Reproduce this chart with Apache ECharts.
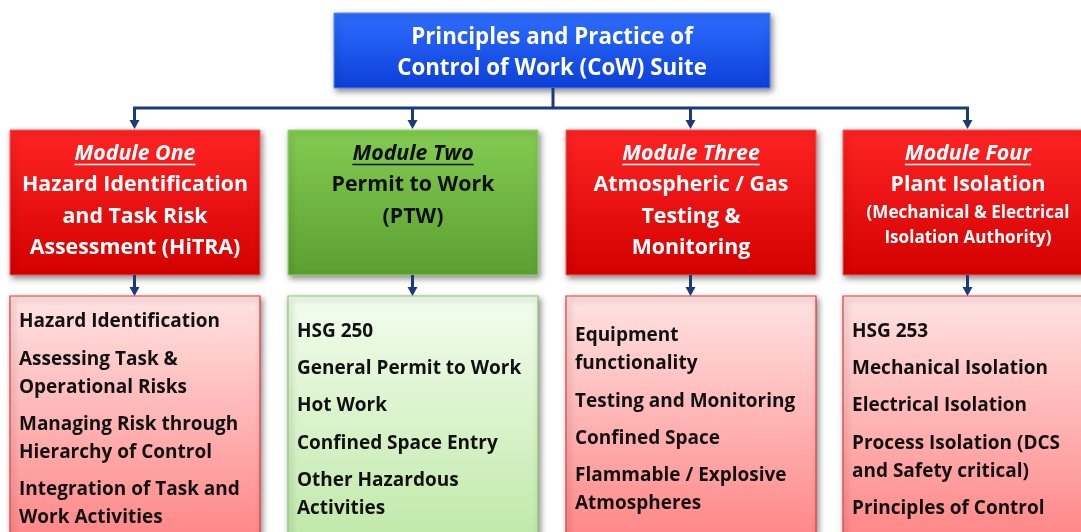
<!DOCTYPE html>
<html><head><meta charset="utf-8">
<script src="https://cdn.jsdelivr.net/npm/echarts@6/dist/echarts.min.js"></script>
<style>html,body{margin:0;padding:0;background:#fff}#c{width:1081px;height:532px}</style>
</head><body><div id="c"></div>
<script>
const titleLines = ["Principles and Practice of", "Control of Work (CoW) Suite"];
const moduleNames = ["Module One", "Module Two", "Module Three", "Module Four"];
const moduleTitles = [
  ["Hazard Identification", "and Task Risk", "Assessment (HiTRA)"],
  ["Permit to Work", "(PTW)"],
  ["Atmospheric / Gas", "Testing &", "Monitoring"],
  ["Plant Isolation"]
];
const moduleSubtitles = [[], [], [], ["(Mechanical & Electrical", "Isolation Authority)"]];
const moduleThemes = ["red", "green", "red", "red"];
const moduleTopics = [
  [["Hazard Identification"], ["Assessing Task &", "Operational Risks"], ["Managing Risk through", "Hierarchy of Control"], ["Integration of Task and", "Work Activities"]],
  [["HSG 250"], ["General Permit to Work"], ["Hot Work"], ["Confined Space Entry"], ["Other Hazardous", "Activities"]],
  [["Equipment", "functionality"], ["Testing and Monitoring"], ["Confined Space"], ["Flammable / Explosive", "Atmospheres"]],
  [["HSG 253"], ["Mechanical Isolation"], ["Electrical Isolation"], ["Process Isolation (DCS", "and Safety critical)"], ["Principles of Control"]]
];

const FONT = 'Open Sans';
const C = {
  navy: '#1b3a7a',
  red: { mod: ['#ff2424', '#d40000'], modBorder: '#ff5a5a', modText: '#ffffff',
         det: ['#ffe3e3', '#ff8080'], detBorder: '#e83a3a' },
  green: { mod: ['#84cc52', '#5c9f32'], modBorder: '#9ad86e', modText: '#111111',
           det: ['#f3fdee', '#bde7a5'], detBorder: '#8cca6e' }
};
const L = { colX: [10, 288, 566, 843], boxW: 250, modTop: 130, modH: 145, detTop: 296, detH: 260,
  topBox: [334, 13, 436, 75], busY: 108, detCenter: 418, dy: 1.8 };

const ctx = document.createElement('canvas').getContext('2d');
function tw(text, font) { ctx.font = font; return ctx.measureText(text).width; }
// fit a font size so that a sample string spans the width seen in the reference
function fit(sample, target, style) { const w = tw(sample, (style || '') + ' bold 20px "' + FONT + '"'); return 20 * target / w; }
const titleFs = fit("Control of Work (CoW) Suite", 310);
const modFs = fit("Hazard Identification", 226);
const subFs = fit("(Mechanical & Electrical", 203);
const detFs = fit("Hazard Identification", 201);

function grad(a, b) { return new echarts.graphic.LinearGradient(0, 0, 0, 1, [{offset: 0, color: a}, {offset: 1, color: b}]); }
const shadow = { shadowBlur: 6, shadowOffsetX: 2, shadowOffsetY: 3, shadowColor: 'rgba(0,0,0,0.45)' };

const g = [];
function arrowDown(x, y1, y2) {
  g.push({ type: 'line', shape: { x1: x, y1: y1, x2: x, y2: y2 - 6 }, style: { stroke: C.navy, lineWidth: 3 }, z: 5 });
  g.push({ type: 'polygon', shape: { points: [[x - 5, y2 - 9], [x + 5, y2 - 9], [x, y2]] }, style: { fill: C.navy }, z: 5 });
}
function text(x, y, s, opt) {
  g.push({ type: 'text', x: x, y: y + L.dy, z: 10, style: Object.assign({ text: s, fontFamily: FONT, fontWeight: 'bold', verticalAlign: 'middle' }, opt) });
}

// top box
const [tx, ty, tW, tH] = L.topBox;
g.push({ type: 'rect', shape: { x: tx, y: ty, width: tW, height: tH }, style: Object.assign({ fill: grad('#2f6eff', '#0b3fd8'), stroke: '#5b8cff', lineWidth: 1 }, shadow), z: 3 });
titleLines.forEach((s, i) => text(tx + tW / 2, 36 + i * 31, s, { fill: '#fff', fontSize: titleFs, align: 'center' }));

// connectors
const centers = L.colX.map(x => x + L.boxW / 2 - 0.5);
g.push({ type: 'line', shape: { x1: tx + tW / 2 + 1, y1: ty + tH, x2: tx + tW / 2 + 1, y2: L.busY }, style: { stroke: C.navy, lineWidth: 3 }, z: 5 });
g.push({ type: 'line', shape: { x1: centers[0] - 1.5, y1: L.busY, x2: centers[3] + 1.5, y2: L.busY }, style: { stroke: C.navy, lineWidth: 3 }, z: 5 });
centers.forEach(cx => { arrowDown(cx, L.busY, L.modTop - 1); arrowDown(cx, L.modTop + L.modH, L.detTop); });

moduleNames.forEach((name, i) => {
  const th = C[moduleThemes[i]];
  const x = L.colX[i], cx = x + L.boxW / 2;
  g.push({ type: 'rect', shape: { x: x, y: L.modTop, width: L.boxW, height: L.modH }, style: Object.assign({ fill: grad(th.mod[0], th.mod[1]), stroke: th.modBorder, lineWidth: 1 }, shadow), z: 3 });
  const y0 = 152;
  text(cx, y0, name, { fill: th.modText, fontSize: modFs, fontStyle: 'italic', align: 'center' });
  const w = tw(name, 'italic bold ' + modFs + 'px "' + FONT + '"');
  g.push({ type: 'line', shape: { x1: cx - w / 2, y1: y0 + 12.5, x2: cx + w / 2, y2: y0 + 12.5 }, style: { stroke: th.modText, lineWidth: 1.5 }, z: 10 });
  moduleTitles[i].forEach((s, j) => text(cx, y0 + 31.5 * (j + 1), s, { fill: th.modText, fontSize: modFs, align: 'center' }));
  const yb = y0 + 31.5 * moduleTitles[i].length;
  moduleSubtitles[i].forEach((s, j) => text(cx, yb + 28 + 25 * j, s, { fill: th.modText, fontSize: subFs, align: 'center' }));

  g.push({ type: 'rect', shape: { x: x, y: L.detTop, width: L.boxW, height: L.detH }, style: Object.assign({ fill: grad(th.det[0], th.det[1]), stroke: th.detBorder, lineWidth: 1.2 }, shadow), z: 3 });
  const items = moduleTopics[i];
  const nLines = items.reduce((a, it) => a + it.length, 0);
  const blockH = (nLines - items.length) * 28 + (items.length - 1) * 37.3;
  let y = L.detCenter - blockH / 2;
  items.forEach(it => {
    it.forEach((s, k) => { text(x + 9, y + k * 28, s, { fill: '#111', fontSize: detFs, align: 'left' }); });
    y += (it.length - 1) * 28 + 37.3;
  });
});

const chart = echarts.init(document.getElementById('c'), null, { renderer: 'canvas' });
chart.setOption({ backgroundColor: '#ffffff', animation: false, graphic: { elements: g } });
</script></body></html>
